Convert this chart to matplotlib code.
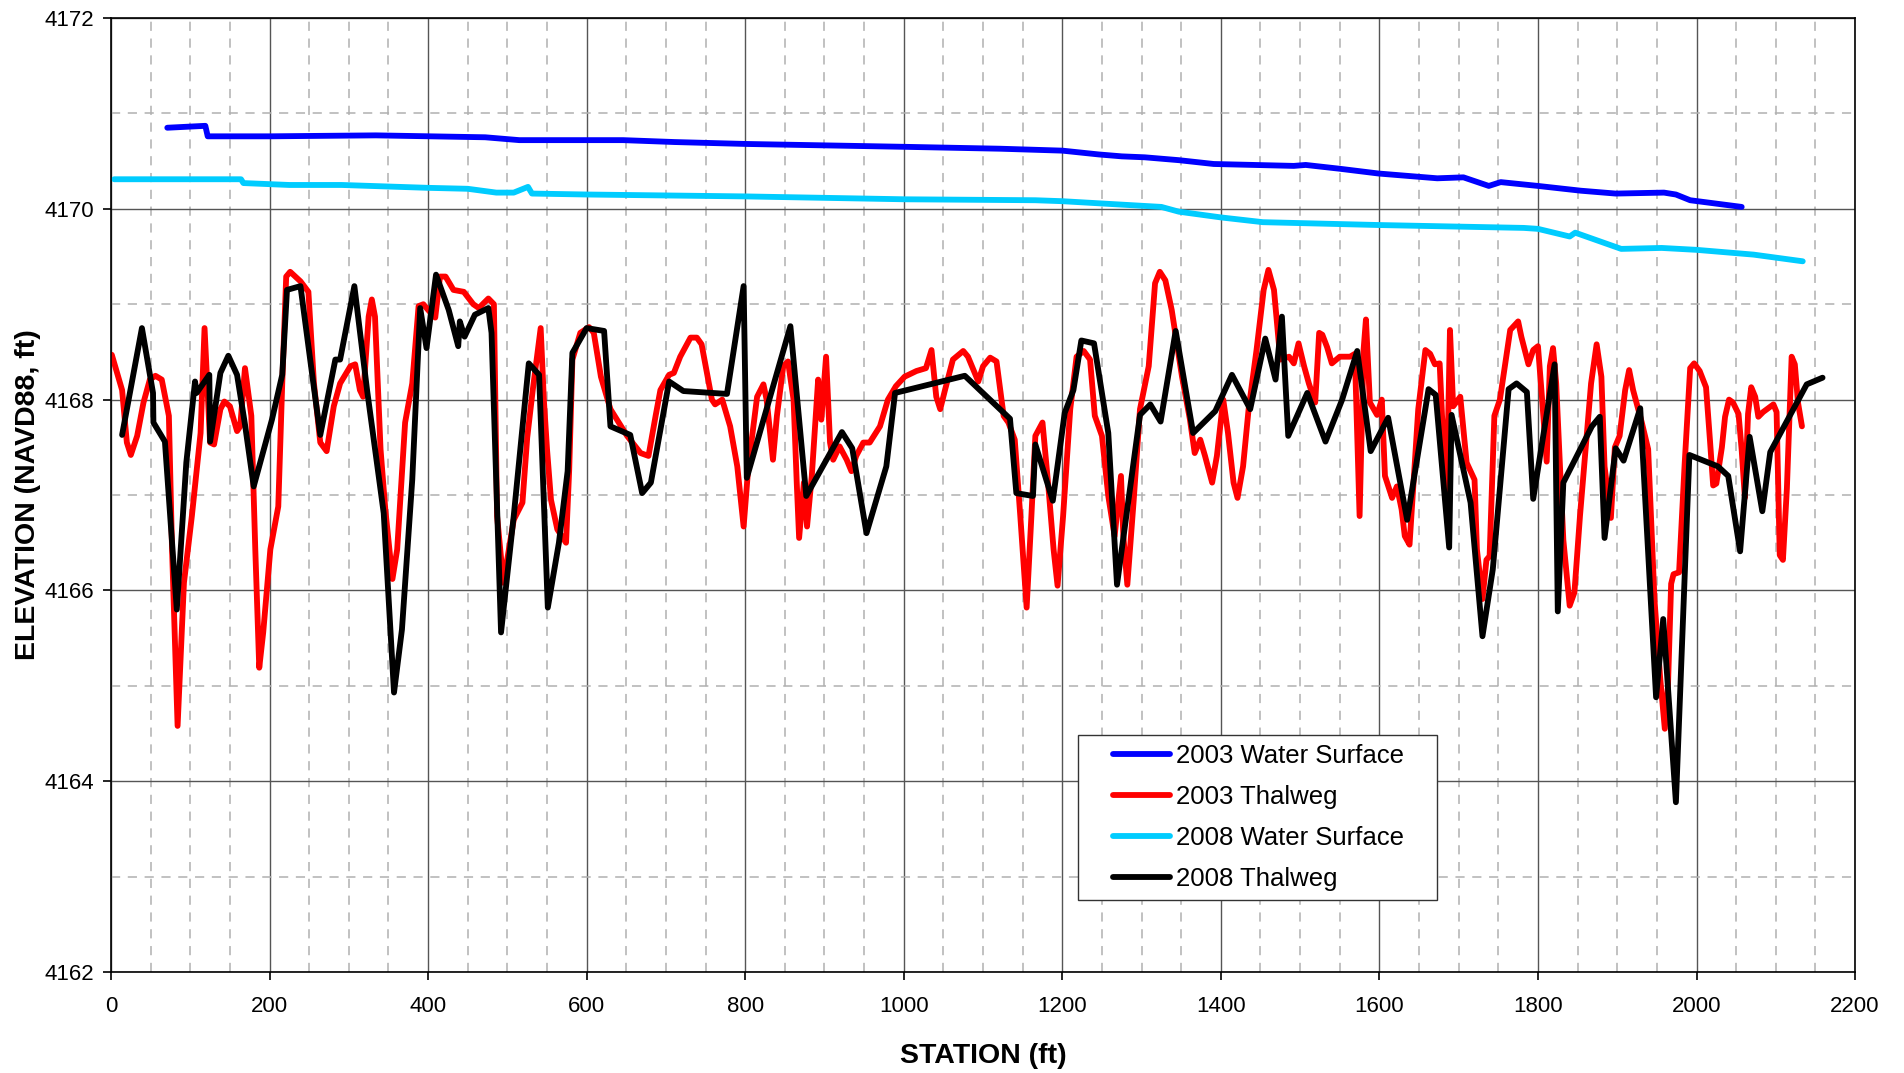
import matplotlib
matplotlib.use("Agg")
import matplotlib.pyplot as plt
from matplotlib.lines import Line2D
from matplotlib.legend_handler import HandlerLine2D
from matplotlib.ticker import MultipleLocator

plt.rcParams["font.family"] = ["Liberation Sans", "DejaVu Sans"]

# ---------------------------------------------------
# Data (station ft, elevation ft NAVD88)
# ---------------------------------------------------

ws2003_sta = [71, 119, 122, 200, 334, 472, 515, 646, 711, 801, 1001, 1122, 1200,
              1246, 1275, 1304, 1347, 1391, 1492, 1507, 1550, 1599, 1673, 1706,
              1738, 1753, 1800, 1854, 1898, 1959, 1974, 1992, 2057]
ws2003_elev = [4170.85, 4170.87, 4170.76, 4170.76, 4170.77, 4170.75, 4170.72,
               4170.72, 4170.70, 4170.68, 4170.65, 4170.63, 4170.61, 4170.57,
               4170.55, 4170.54, 4170.51, 4170.47, 4170.45, 4170.46, 4170.42,
               4170.37, 4170.32, 4170.33, 4170.24, 4170.28, 4170.24, 4170.19,
               4170.16, 4170.17, 4170.15, 4170.09, 4170.02]

thal2003_sta = [1, 14, 20, 25, 33, 41, 49, 56, 64, 73, 77, 84, 92, 102, 113, 118,
                125, 130, 138, 143, 150, 159, 163, 169, 177, 182, 187, 192, 201,
                211, 216, 221, 226, 239, 249, 256, 264, 272, 281, 289, 302, 308,
                314, 318, 325, 329, 333, 340, 346, 355, 361, 371, 380, 388, 394,
                400, 409, 415, 422, 432, 445, 457, 464, 476, 483, 487, 495, 508,
                519, 525, 532, 542, 546, 550, 555, 563, 574, 578, 582, 592, 603,
                609, 618, 630, 651, 668, 678, 687, 693, 704, 710, 718, 731, 739,
                745, 758, 762, 771, 781, 790, 798, 804, 815, 823, 827, 835, 840,
                848, 854, 861, 865, 868, 874, 878, 884, 892, 896, 902, 907, 911,
                919, 928, 934, 940, 949, 957, 970, 980, 990, 1001, 1016, 1028,
                1035, 1041, 1046, 1052, 1062, 1075, 1081, 1094, 1100, 1109, 1117,
                1126, 1132, 1140, 1147, 1155, 1161, 1166, 1175, 1182, 1189, 1194,
                1201, 1210, 1218, 1227, 1235, 1241, 1250, 1258, 1266, 1274, 1277,
                1282, 1290, 1298, 1309, 1317, 1323, 1330, 1338, 1351, 1361, 1367,
                1374, 1380, 1389, 1395, 1403, 1409, 1416, 1421, 1428, 1435, 1445,
                1454, 1460, 1467, 1475, 1486, 1492, 1498, 1505, 1511, 1519, 1524,
                1528, 1534, 1540, 1550, 1563, 1569, 1575, 1580, 1583, 1588, 1597,
                1603, 1607, 1616, 1622, 1628, 1632, 1638, 1643, 1649, 1658, 1664,
                1670, 1676, 1679, 1685, 1689, 1693, 1702, 1710, 1720, 1723, 1730,
                1735, 1739, 1745, 1752, 1765, 1775, 1779, 1788, 1794, 1800, 1805,
                1811, 1815, 1819, 1823, 1832, 1840, 1846, 1853, 1861, 1867, 1874,
                1880, 1884, 1892, 1897, 1903, 1910, 1915, 1920, 1931, 1939, 1947,
                1954, 1960, 1964, 1968, 1971, 1978, 1985, 1992, 1997, 2004, 2012,
                2017, 2021, 2025, 2032, 2036, 2041, 2046, 2053, 2057, 2061, 2065,
                2069, 2074, 2078, 2084, 2097, 2101, 2105, 2109, 2114, 2118, 2120,
                2124, 2128, 2133]
thal2003_elev = [4168.47, 4168.10, 4167.55, 4167.42, 4167.62, 4167.97, 4168.21,
                 4168.25, 4168.21, 4167.83, 4166.43, 4164.58, 4166.08, 4166.78,
                 4167.65, 4168.75, 4167.55, 4167.53, 4167.90, 4167.98, 4167.93,
                 4167.67, 4167.72, 4168.33, 4167.83, 4166.43, 4165.19, 4165.56,
                 4166.43, 4166.88, 4168.17, 4169.29, 4169.34, 4169.24, 4169.13,
                 4168.17, 4167.55, 4167.46, 4167.93, 4168.17, 4168.35, 4168.37,
                 4168.10, 4168.03, 4168.87, 4169.05, 4168.87, 4167.48, 4166.85,
                 4166.12, 4166.43, 4167.76, 4168.17, 4168.98, 4169.00, 4168.94,
                 4168.86, 4169.29, 4169.29, 4169.15, 4169.13, 4169.00, 4168.96,
                 4169.06, 4169.00, 4166.78, 4166.08, 4166.74, 4166.92, 4167.60,
                 4168.10, 4168.75, 4168.00, 4167.48, 4166.95, 4166.64, 4166.50,
                 4167.27, 4168.42, 4168.70, 4168.76, 4168.70, 4168.24, 4167.90,
                 4167.62, 4167.44, 4167.41, 4167.83, 4168.10, 4168.26, 4168.28,
                 4168.45, 4168.65, 4168.65, 4168.58, 4168.00, 4167.95, 4168.00,
                 4167.72, 4167.30, 4166.67, 4167.30, 4168.03, 4168.16, 4168.00,
                 4167.37, 4167.83, 4168.35, 4168.40, 4168.00, 4167.13, 4166.55,
                 4167.13, 4166.67, 4167.20, 4168.21, 4167.79, 4168.45, 4167.55,
                 4167.37, 4167.51, 4167.37, 4167.25, 4167.41, 4167.55, 4167.55,
                 4167.72, 4168.00, 4168.14, 4168.24, 4168.30, 4168.33, 4168.52,
                 4168.03, 4167.90, 4168.10, 4168.42, 4168.51, 4168.45, 4168.19,
                 4168.35, 4168.44, 4168.40, 4167.83, 4167.76, 4167.58, 4166.78,
                 4165.82, 4166.78, 4167.62, 4167.76, 4167.13, 4166.43, 4166.05,
                 4166.78, 4167.90, 4168.45, 4168.51, 4168.42, 4167.83, 4167.62,
                 4166.99, 4166.57, 4167.20, 4166.57, 4166.06, 4166.94, 4167.90,
                 4168.35, 4169.22, 4169.34, 4169.25, 4168.94, 4168.24, 4167.79,
                 4167.44, 4167.58, 4167.41, 4167.13, 4167.41, 4168.00, 4167.65,
                 4167.13, 4166.97, 4167.30, 4167.90, 4168.52, 4169.15, 4169.36,
                 4169.15, 4168.42, 4168.45, 4168.38, 4168.59, 4168.35, 4168.17,
                 4167.97, 4168.70, 4168.68, 4168.55, 4168.38, 4168.45, 4168.45,
                 4168.48, 4166.78, 4168.52, 4168.84, 4167.97, 4167.84, 4168.00,
                 4167.20, 4166.97, 4167.09, 4166.85, 4166.57, 4166.48, 4167.13,
                 4167.90, 4168.52, 4168.48, 4168.37, 4168.38, 4167.83, 4167.06,
                 4168.73, 4167.93, 4168.03, 4167.34, 4167.16, 4166.43, 4165.91,
                 4166.32, 4166.36, 4167.83, 4168.00, 4168.73, 4168.82, 4168.66,
                 4168.37, 4168.52, 4168.56, 4168.03, 4167.35, 4168.35, 4168.54,
                 4168.17, 4166.53, 4165.84, 4165.98, 4166.78, 4167.58, 4168.17,
                 4168.58, 4168.24, 4167.30, 4166.76, 4167.50, 4167.62, 4168.10,
                 4168.31, 4168.10, 4167.76, 4167.48, 4165.90, 4165.10, 4164.55,
                 4165.00, 4166.07, 4166.17, 4166.19, 4167.32, 4168.33, 4168.38,
                 4168.30, 4168.13, 4167.57, 4167.10, 4167.12, 4167.50, 4167.82,
                 4168.00, 4167.97, 4167.85, 4167.47, 4166.97, 4167.85, 4168.13,
                 4168.03, 4167.82, 4167.87, 4167.95, 4167.87, 4166.37, 4166.32,
                 4167.07, 4167.97, 4168.45, 4168.37, 4167.97, 4167.72]

ws2008_sta = [4, 164, 167, 225, 291, 400, 450, 486, 508, 526, 531, 601, 801, 1001,
              1166, 1200, 1325, 1347, 1400, 1453, 1600, 1782, 1800, 1840, 1847,
              1905, 1956, 2000, 2072, 2134]
ws2008_elev = [4170.31, 4170.31, 4170.27, 4170.25, 4170.25, 4170.22, 4170.21,
               4170.17, 4170.17, 4170.23, 4170.16, 4170.15, 4170.13, 4170.10,
               4170.09, 4170.08, 4170.02, 4169.97, 4169.91, 4169.86, 4169.83,
               4169.80, 4169.79, 4169.71, 4169.75, 4169.58, 4169.59, 4169.57,
               4169.52, 4169.45]

thal2008_sta = [14, 39, 53, 53.5, 68, 83, 95, 106, 108, 124, 125, 138, 148, 159,
                169, 180, 203, 216, 222, 239, 253, 264, 283, 289, 307, 323, 344,
                357, 367, 380, 390, 398, 410, 426, 438, 440, 446, 459, 476, 480,
                492, 508, 527, 540, 551, 565, 576, 582, 600, 622, 630, 655, 670,
                681, 704, 722, 777, 798, 802, 857, 877, 922, 935, 953, 978, 989,
                1077, 1134, 1142, 1163, 1166, 1188, 1203, 1214, 1224, 1240, 1258,
                1269, 1298, 1311, 1324, 1343, 1365, 1393, 1414, 1437, 1456, 1469,
                1477, 1485, 1509, 1532, 1553, 1572, 1589, 1611, 1635, 1662, 1671,
                1688, 1691, 1715, 1730, 1743, 1763, 1773, 1786, 1794, 1821, 1825,
                1832, 1868, 1878, 1884, 1898, 1908, 1929, 1949, 1958, 1974, 1991,
                2027, 2040, 2055, 2067, 2083, 2093, 2139, 2159]
thal2008_elev = [4167.63, 4168.75, 4168.07, 4167.76, 4167.56, 4165.80, 4167.34,
                 4168.19, 4168.07, 4168.26, 4167.56, 4168.28, 4168.46, 4168.26,
                 4167.74, 4167.09, 4167.79, 4168.26, 4169.15, 4169.19, 4168.31,
                 4167.63, 4168.42, 4168.42, 4169.19, 4168.10, 4166.81, 4164.93,
                 4165.59, 4167.16, 4168.96, 4168.54, 4169.31, 4168.94, 4168.56,
                 4168.82, 4168.66, 4168.89, 4168.96, 4168.70, 4165.56, 4166.78,
                 4168.38, 4168.26, 4165.82, 4166.50, 4167.25, 4168.49, 4168.75,
                 4168.72, 4167.72, 4167.63, 4167.02, 4167.13, 4168.19, 4168.09,
                 4168.06, 4169.19, 4167.18, 4168.77, 4166.99, 4167.66, 4167.49,
                 4166.60, 4167.30, 4168.07, 4168.25, 4167.80, 4167.02, 4166.99,
                 4167.53, 4166.94, 4167.86, 4168.10, 4168.62, 4168.59, 4167.65,
                 4166.06, 4167.84, 4167.95, 4167.77, 4168.72, 4167.65, 4167.88,
                 4168.26, 4167.90, 4168.64, 4168.21, 4168.87, 4167.62, 4168.07,
                 4167.56, 4168.00, 4168.51, 4167.46, 4167.81, 4166.74, 4168.11,
                 4168.05, 4166.45, 4167.84, 4166.92, 4165.52, 4166.22, 4168.11,
                 4168.17, 4168.08, 4166.96, 4168.37, 4165.78, 4167.13, 4167.72,
                 4167.82, 4166.55, 4167.49, 4167.36, 4167.91, 4164.88, 4165.70,
                 4163.78, 4167.42, 4167.30, 4167.20, 4166.41, 4167.61, 4166.83,
                 4167.45, 4168.16, 4168.23]

# ---------------------------------------------------
# Longitudinal Profile
# ---------------------------------------------------

fig = plt.figure(figsize=(19.04, 10.73), dpi=100)
ax = fig.add_axes([0.0583, 0.0941, 0.916, 0.8891])

line_kw = dict(linewidth=4.2, solid_joinstyle="round", solid_capstyle="round")

ax.plot(ws2003_sta, ws2003_elev, color="#0000FF", label="2003 Water Surface", **line_kw)
ax.plot(thal2003_sta, thal2003_elev, color="#FF0000", label="2003 Thalweg", **line_kw)
ax.plot(ws2008_sta, ws2008_elev, color="#00CCFF", label="2008 Water Surface", **line_kw)
ax.plot(thal2008_sta, thal2008_elev, color="#000000", label="2008 Thalweg", **line_kw)

ax.set_xlim(0, 2200)
ax.set_ylim(4162, 4172)

ax.xaxis.set_major_locator(MultipleLocator(200))
ax.xaxis.set_minor_locator(MultipleLocator(50))
ax.yaxis.set_major_locator(MultipleLocator(2))
ax.yaxis.set_minor_locator(MultipleLocator(1))

ax.grid(which="minor", color="#b0b0b0", linestyle=(0, (6, 5)), linewidth=1.1)
ax.grid(which="major", color="#555555", linestyle="-", linewidth=1.0)
ax.set_axisbelow(True)

ax.tick_params(which="major", direction="out", length=6, width=1.2,
               labelsize=16, pad=6)
ax.tick_params(axis="x", which="major", pad=11)
ax.tick_params(which="minor", length=0)

for spine in ax.spines.values():
    spine.set_color("black")
    spine.set_linewidth(1.2)

ax.set_xlabel("STATION (ft)", fontsize=20.5, fontweight="bold", labelpad=19)
ax.set_ylabel("ELEVATION (NAVD88, ft)", fontsize=20.5, fontweight="bold", labelpad=3)

leg = ax.legend(loc="lower left", bbox_to_anchor=(0.5545, 0.0757, 0.206, 0.2),
                mode="expand", fontsize=18.5,
                frameon=True, fancybox=False, framealpha=1, edgecolor="#333333",
                handlelength=3.24, handletextpad=0.23, labelspacing=0.66,
                borderpad=0.35, borderaxespad=0,
                handler_map={Line2D: HandlerLine2D(xpad=1.0)})
leg.get_frame().set_linewidth(1.0)

fig.savefig("out.png", dpi=100)
plt.close(fig)
